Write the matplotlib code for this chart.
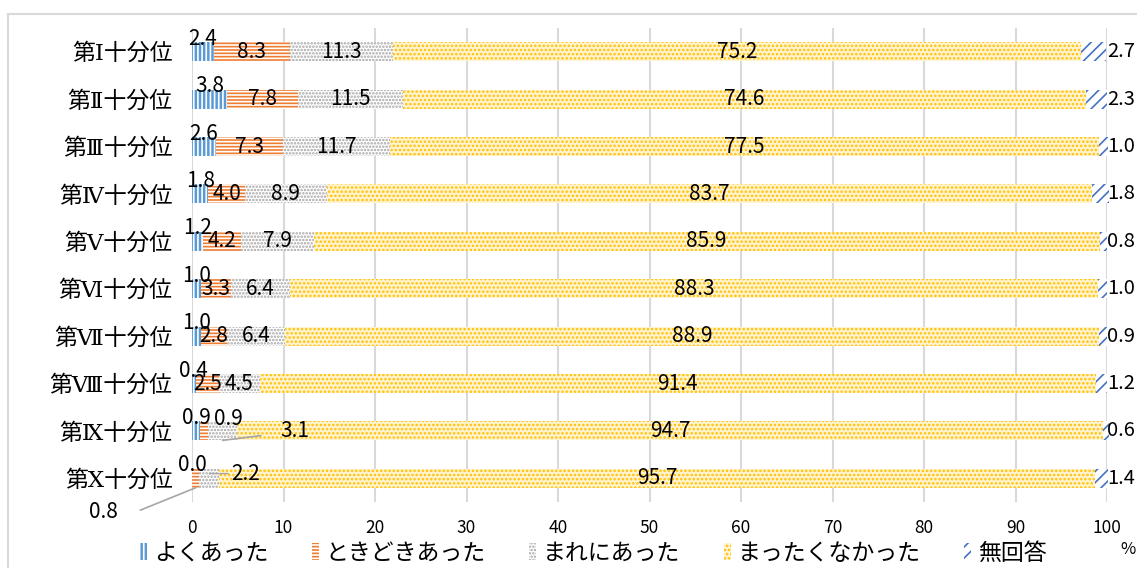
import matplotlib
matplotlib.use("Agg")
import matplotlib.pyplot as plt
from matplotlib.lines import Line2D
from matplotlib.patches import Patch
import numpy as np

plt.rcParams["font.family"] = ["Noto Sans CJK JP", "DejaVu Sans"]
plt.rcParams["hatch.linewidth"] = 1.2

categories = ["第Ⅰ十分位", "第Ⅱ十分位", "第Ⅲ十分位", "第Ⅳ十分位", "第Ⅴ十分位",
              "第Ⅵ十分位", "第Ⅶ十分位", "第Ⅷ十分位", "第Ⅸ十分位", "第Ⅹ十分位"]
series_names = ["よくあった", "ときどきあった", "まれにあった", "まったくなかった", "無回答"]

often = [2.4, 3.8, 2.6, 1.8, 1.2, 1.0, 1.0, 0.4, 0.9, 0.0]
sometimes = [8.3, 7.8, 7.3, 4.0, 4.2, 3.3, 2.8, 2.5, 0.9, 0.8]
rarely = [11.3, 11.5, 11.7, 8.9, 7.9, 6.4, 6.4, 4.5, 3.1, 2.2]
never = [75.2, 74.6, 77.5, 83.7, 85.9, 88.3, 88.9, 91.4, 94.7, 95.7]
no_answer = [2.7, 2.3, 1.0, 1.8, 0.8, 1.0, 0.9, 1.2, 0.6, 1.4]

# face, hatch colour, hatch
styles = [
    ("#5B9BD5", "white", "||||"),
    ("#ED7D31", "white", "-----"),
    ("white", "#A5A5A5", "....."),
    ("#FFF3D0", "#FFC000", "...."),
    ("white", "#4472C4", "///"),
]

fig = plt.figure(figsize=(11.37, 5.68), dpi=100)
ax = fig.add_axes([192 / 1137, 1 - 502 / 568, 915 / 1137, 474 / 568])

y = np.arange(len(categories))
data = [often, sometimes, rarely, never, no_answer]
left = np.zeros(len(categories))
bar_h = 0.4
fs = 15
lead = dict(arrowstyle="-", color="#A6A6A6", lw=1.2, shrinkB=0)

for k, (vals, (face, hc, hatch)) in enumerate(zip(data, styles)):
    vals = np.array(vals)
    ax.barh(y, vals, left=left, height=bar_h, color=face, edgecolor=hc,
            hatch=hatch, linewidth=0, zorder=2, clip_on=False)
    for i, v in enumerate(vals):
        cx = left[i] + v / 2
        kw = dict(textcoords="offset pixels", ha="center", va="center",
                  fontsize=fs, zorder=5, annotation_clip=False)
        if k == 0:
            ax.annotate(f"{v:.1f}", (cx, y[i]), xytext=(0, 13), **kw)
        elif k == 4:
            # labels of the last series sit just right of the 100 line
            kw["ha"] = "left"
            kw["fontsize"] = 14.5
            ax.annotate(f"{v:.1f}", (100, y[i]), xytext=(0, 0), **kw)
        elif i == 8 and k == 1:
            ax.annotate(f"{v:.1f}", (cx, y[i]), xytext=(24, 12), **kw)
        elif i == 8 and k == 2:
            ax.annotate(f"{v:.1f}", (cx, y[i] + 0.2), xytext=(72, 9),
                        arrowprops=dict(lead, shrinkA=12), **kw)
        elif i == 9 and k == 1:
            ax.annotate(f"{v:.1f}", (cx, y[i] + 0.2), xytext=(-92, -24),
                        arrowprops=dict(lead, shrinkA=14,
                                        connectionstyle="angle,angleA=0,angleB=22,rad=0"), **kw)
        elif i == 9 and k == 2:
            ax.annotate(f"{v:.1f}", (cx, y[i] - 0.1), xytext=(36, 0),
                        arrowprops=dict(lead, lw=1.0, shrinkA=14), **kw)
        else:
            ax.text(cx, y[i], f"{v:.1f}", ha="center", va="center", fontsize=fs, zorder=5)
    left += vals

ax.set_xlim(0, 100)
ax.set_ylim(len(categories) - 0.5, -0.5)
ax.set_xticks(np.arange(0, 101, 10))
ax.set_yticks(y)
ax.set_yticklabels(categories, fontsize=16.5, family=["DejaVu Serif", "Noto Sans CJK JP"])
ax.tick_params(axis="y", length=0, pad=14)
ax.tick_params(axis="x", length=0, pad=12, labelsize=12.5)
ax.grid(axis="x", color="#D9D9D9", lw=1.5, zorder=0)
for s in ax.spines.values():
    s.set_visible(False)

handles = [Patch(facecolor=f, edgecolor=h, hatch=ht, linewidth=0) for f, h, ht in styles]
fig.legend(handles, series_names, loc="center", bbox_to_anchor=(0.522, 1 - 553 / 568),
           ncol=5, frameon=False, fontsize=16.5, handlelength=0.3, handleheight=0.8,
           handletextpad=0.3, columnspacing=1.9)
fig.text(1128 / 1137, 1 - 550 / 568, "%", fontsize=12, ha="center", va="center")

# chart area border
fig.add_artist(Line2D([8 / 1137, 8 / 1137], [0, 1 - 14 / 568], color="#D9D9D9", lw=1.5))
fig.add_artist(Line2D([8 / 1137, 1], [1 - 14 / 568, 1 - 14 / 568], color="#D9D9D9", lw=1.5))

fig.savefig("out.png", dpi=100)
